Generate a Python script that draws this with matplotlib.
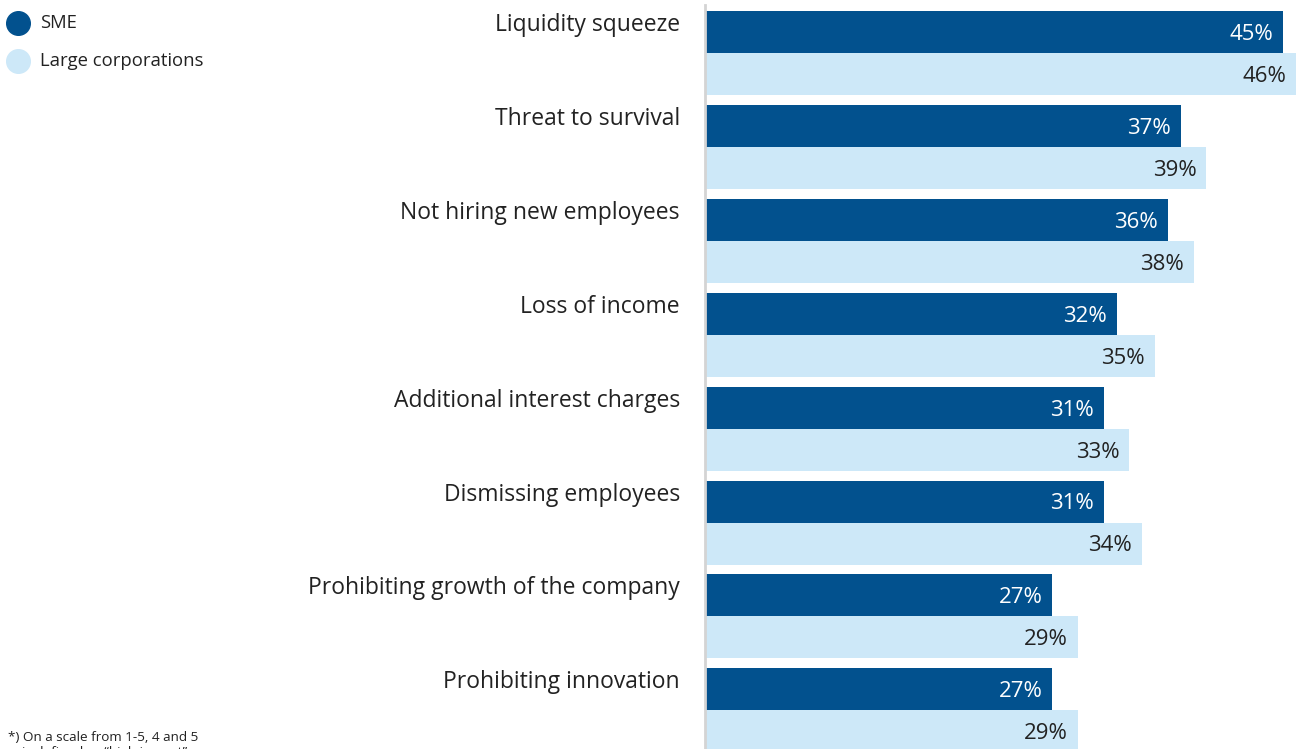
import matplotlib.pyplot as plt
from matplotlib.lines import Line2D

plt.rcParams['font.family'] = ['Open Sans', 'DejaVu Sans']

categories = [
    'Liquidity squeeze',
    'Threat to survival',
    'Not hiring new employees',
    'Loss of income',
    'Additional interest charges',
    'Dismissing employees',
    'Prohibiting growth of the company',
    'Prohibiting innovation',
]
sme = [45, 37, 36, 32, 31, 31, 27, 27]
large = [46, 39, 38, 35, 33, 34, 29, 29]
series_names = ['SME', 'Large corporations']

dark = '#02518e'
light = '#cde8f8'
text_col = '#222222'

W, H = 1298, 749
fig = plt.figure(figsize=(W / 100, H / 100), dpi=100)

# axes spans from the baseline to the right edge, group pitch = 1 unit
pitch = 93.9
ax = fig.add_axes([706 / W, 0, 592 / W, 1])
ax.set_xlim(0, 592 / 12.83)
ax.set_ylim((H - 32) / pitch, -32 / pitch)
ax.axis('off')

bh = 42 / pitch
ys = list(range(len(categories)))
ax.barh(ys, sme, height=bh, color=dark)
ax.barh([y + bh for y in ys], large, height=bh, color=light)

for y, name, a, b in zip(ys, categories, sme, large):
    ax.annotate(name, xy=(0, y - 0.01), xytext=(-26, 0), textcoords='offset pixels',
                ha='right', va='baseline', fontsize=16.5, color=text_col)
    ax.annotate(f'{a}%', xy=(a, y + 0.085), xytext=(-10, 0), textcoords='offset pixels',
                ha='right', va='baseline', fontsize=16, color='white')
    ax.annotate(f'{b}%', xy=(b, y + bh + 0.085), xytext=(-10, 0), textcoords='offset pixels',
                ha='right', va='baseline', fontsize=16, color=text_col)

# thin grey baseline
fig.add_artist(Line2D([705 / W, 705 / W], [0, 1 - 5 / H], color='#d4d4d4', lw=2,
                      transform=fig.transFigure))

# legend
for i, (lab, col) in enumerate(zip(series_names, [dark, light])):
    yy = 1 - (23 + 38 * i) / H
    fig.add_artist(Line2D([18 / W], [yy], marker='o', markersize=17, color=col, lw=0,
                          transform=fig.transFigure))
    fig.text(40 / W, yy, lab, ha='left', va='center', fontsize=13.3, color=text_col)

# footnote, second line runs off the bottom edge
fig.text(8 / W, 1 - 741 / H, '*) On a scale from 1-5, 4 and 5',
         ha='left', va='baseline', fontsize=9.7, color=text_col)
fig.text(22 / W, 1 - 756 / H, 'is defined as \u201chigh impact\u201d',
         ha='left', va='baseline', fontsize=9.7, color=text_col)

fig.savefig('out.png', dpi=100)
